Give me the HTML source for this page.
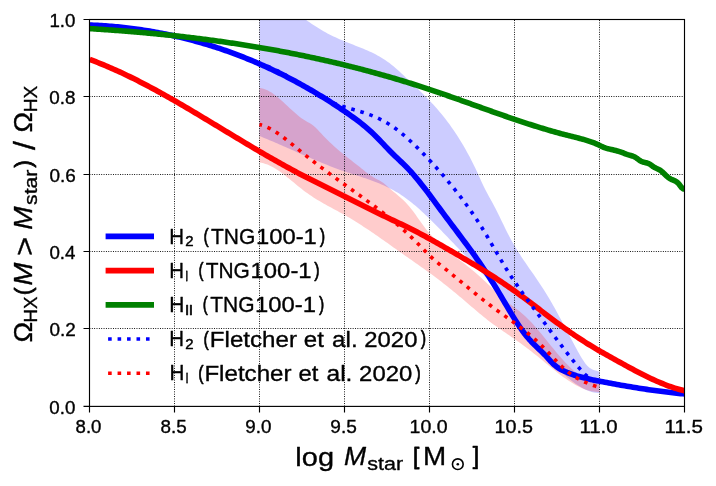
<!DOCTYPE html>
<html><head><meta charset="utf-8"><title>chart</title>
<style>html,body{margin:0;padding:0;background:#fff;}svg{display:block;}text{font-family:"Liberation Sans",sans-serif;fill:#000;}</style></head>
<body>
<svg width="716" height="486" viewBox="0 0 716 486">
<rect x="0" y="0" width="716" height="486" fill="#fff"/>
<defs><clipPath id="ax"><rect x="89.50" y="19.50" width="595.00" height="386.90"/></clipPath></defs>
<g clip-path="url(#ax)">
<path d="M259.50,-6.00 L261.50,-5.46 L263.50,-4.83 L265.50,-4.14 L267.50,-3.37 L269.50,-2.53 L271.50,-1.63 L273.50,-0.67 L275.50,0.34 L277.50,1.41 L279.50,2.52 L281.50,3.68 L283.50,4.88 L285.50,6.12 L287.50,7.38 L289.50,8.68 L291.50,10.00 L293.50,11.33 L295.50,12.69 L297.50,14.06 L299.50,15.43 L301.50,16.81 L303.50,18.20 L305.50,19.57 L307.50,20.95 L309.50,22.31 L311.50,23.65 L313.50,24.98 L315.50,26.28 L317.50,27.55 L319.50,28.80 L321.50,30.01 L323.50,31.18 L325.50,32.31 L327.50,33.40 L329.50,34.44 L331.50,35.44 L333.50,36.41 L335.50,37.35 L337.50,38.26 L339.50,39.14 L341.50,40.00 L343.50,40.84 L345.50,41.66 L347.50,42.47 L349.50,43.27 L351.50,44.06 L353.50,44.85 L355.50,45.64 L357.50,46.43 L359.50,47.23 L361.50,48.03 L363.50,48.85 L365.50,49.69 L367.50,50.55 L369.50,51.45 L371.50,52.37 L373.50,53.34 L375.50,54.35 L377.50,55.41 L379.50,56.53 L381.50,57.70 L383.50,58.94 L385.50,60.25 L387.50,61.63 L389.50,63.09 L391.50,64.64 L393.50,66.27 L395.50,67.98 L397.50,69.76 L399.50,71.59 L401.50,73.45 L403.50,75.33 L405.50,77.22 L407.50,79.11 L409.50,80.99 L411.50,82.87 L413.50,84.76 L415.50,86.66 L417.50,88.57 L419.50,90.50 L421.50,92.45 L423.50,94.42 L425.50,96.43 L427.50,98.47 L429.50,100.55 L431.50,102.67 L433.50,104.84 L435.50,107.06 L437.50,109.33 L439.50,111.66 L441.50,114.06 L443.50,116.52 L445.50,119.06 L447.50,121.67 L449.50,124.36 L451.50,127.14 L453.50,130.00 L455.50,132.96 L457.50,136.02 L459.50,139.17 L461.50,142.43 L463.50,145.80 L465.50,149.29 L467.50,152.89 L469.50,156.61 L471.50,160.46 L473.50,164.44 L475.50,168.55 L477.50,172.80 L479.50,177.20 L481.50,181.64 L483.50,185.92 L485.50,189.93 L487.50,193.74 L489.50,197.42 L491.50,201.06 L493.50,204.73 L495.50,208.52 L497.50,212.46 L499.50,216.53 L501.50,220.67 L503.50,224.82 L505.50,228.93 L507.50,232.93 L509.50,236.77 L511.50,240.45 L513.50,243.97 L515.50,247.37 L517.50,250.64 L519.50,253.81 L521.50,256.89 L523.50,259.90 L525.50,262.85 L527.50,265.75 L529.50,268.63 L531.50,271.50 L533.50,274.36 L535.50,277.25 L537.50,280.17 L539.50,283.13 L541.50,286.16 L543.50,289.27 L545.50,292.46 L547.50,295.75 L549.50,299.12 L551.50,302.55 L553.50,306.06 L555.50,309.62 L557.50,313.24 L559.50,316.90 L561.50,320.60 L563.50,324.33 L565.50,328.08 L567.50,331.85 L569.50,335.63 L571.50,339.40 L573.50,343.18 L575.50,346.94 L577.50,350.67 L579.50,354.29 L581.50,357.71 L583.50,360.87 L585.50,363.66 L587.50,366.02 L589.50,367.86 L591.50,369.11 L593.50,369.88 L595.50,370.43 L597.50,371.05 L599.50,372.02 L599.50,392.95 L597.50,392.92 L595.50,392.73 L593.50,392.39 L591.50,391.90 L589.50,391.27 L587.50,390.51 L585.50,389.63 L583.50,388.63 L581.50,387.53 L579.50,386.33 L577.50,385.03 L575.50,383.65 L573.50,382.19 L571.50,380.67 L569.50,379.08 L567.50,377.44 L565.50,375.75 L563.50,374.03 L561.50,372.27 L559.50,370.48 L557.50,368.65 L555.50,366.79 L553.50,364.90 L551.50,362.98 L549.50,361.02 L547.50,359.02 L545.50,356.96 L543.50,354.84 L541.50,352.66 L539.50,350.39 L537.50,348.04 L535.50,345.60 L533.50,343.07 L531.50,340.45 L529.50,337.76 L527.50,335.01 L525.50,332.19 L523.50,329.33 L521.50,326.43 L519.50,323.50 L517.50,320.55 L515.50,317.59 L513.50,314.63 L511.50,311.67 L509.50,308.72 L507.50,305.80 L505.50,302.92 L503.50,300.07 L501.50,297.27 L499.50,294.54 L497.50,291.87 L495.50,289.28 L493.50,286.75 L491.50,284.29 L489.50,281.89 L487.50,279.54 L485.50,277.24 L483.50,274.99 L481.50,272.77 L479.50,270.59 L477.50,268.43 L475.50,266.30 L473.50,264.19 L471.50,262.09 L469.50,260.00 L467.50,257.91 L465.50,255.83 L463.50,253.74 L461.50,251.66 L459.50,249.58 L457.50,247.50 L455.50,245.41 L453.50,243.33 L451.50,241.24 L449.50,239.15 L447.50,237.06 L445.50,234.97 L443.50,232.89 L441.50,230.82 L439.50,228.76 L437.50,226.72 L435.50,224.69 L433.50,222.68 L431.50,220.70 L429.50,218.73 L427.50,216.80 L425.50,214.89 L423.50,213.01 L421.50,211.17 L419.50,209.36 L417.50,207.59 L415.50,205.87 L413.50,204.19 L411.50,202.55 L409.50,200.96 L407.50,199.43 L405.50,197.95 L403.50,196.52 L401.50,195.15 L399.50,193.85 L397.50,192.60 L395.50,191.41 L393.50,190.27 L391.50,189.18 L389.50,188.13 L387.50,187.13 L385.50,186.18 L383.50,185.26 L381.50,184.38 L379.50,183.53 L377.50,182.72 L375.50,181.93 L373.50,181.17 L371.50,180.44 L369.50,179.72 L367.50,179.02 L365.50,178.34 L363.50,177.67 L361.50,177.01 L359.50,176.36 L357.50,175.71 L355.50,175.06 L353.50,174.42 L351.50,173.77 L349.50,173.11 L347.50,172.45 L345.50,171.77 L343.50,171.09 L341.50,170.38 L339.50,169.67 L337.50,168.94 L335.50,168.19 L333.50,167.44 L331.50,166.67 L329.50,165.89 L327.50,165.10 L325.50,164.30 L323.50,163.50 L321.50,162.68 L319.50,161.85 L317.50,161.02 L315.50,160.18 L313.50,159.33 L311.50,158.48 L309.50,157.62 L307.50,156.75 L305.50,155.89 L303.50,155.01 L301.50,154.14 L299.50,153.26 L297.50,152.38 L295.50,151.50 L293.50,150.62 L291.50,149.73 L289.50,148.85 L287.50,147.97 L285.50,147.09 L283.50,146.21 L281.50,145.33 L279.50,144.46 L277.50,143.59 L275.50,142.72 L273.50,141.86 L271.50,141.00 L269.50,140.15 L267.50,139.31 L265.50,138.47 L263.50,137.64 L261.50,136.82 L259.50,136.00 Z" fill="#0000ff" fill-opacity="0.2" stroke="none"/>
<path d="M259.50,87.90 L261.50,88.18 L263.50,88.69 L265.50,89.40 L267.50,90.31 L269.50,91.39 L271.50,92.62 L273.50,94.00 L275.50,95.49 L277.50,97.09 L279.50,98.78 L281.50,100.53 L283.50,102.34 L285.50,104.19 L287.50,106.05 L289.50,107.91 L291.50,109.76 L293.50,111.58 L295.50,113.34 L297.50,115.03 L299.50,116.64 L301.50,118.15 L303.50,119.54 L305.50,120.79 L307.50,121.93 L309.50,123.07 L311.50,124.33 L313.50,125.81 L315.50,127.58 L317.50,129.55 L319.50,131.66 L321.50,133.82 L323.50,135.96 L325.50,138.04 L327.50,140.04 L329.50,141.98 L331.50,143.87 L333.50,145.70 L335.50,147.48 L337.50,149.22 L339.50,150.91 L341.50,152.58 L343.50,154.21 L345.50,155.83 L347.50,157.42 L349.50,159.00 L351.50,160.57 L353.50,162.13 L355.50,163.70 L357.50,165.27 L359.50,166.85 L361.50,168.45 L363.50,170.05 L365.50,171.63 L367.50,173.17 L369.50,174.65 L371.50,176.03 L373.50,177.29 L375.50,178.41 L377.50,179.40 L379.50,180.41 L381.50,181.64 L383.50,183.11 L385.50,184.75 L387.50,186.49 L389.50,188.26 L391.50,189.99 L393.50,191.68 L395.50,193.35 L397.50,195.03 L399.50,196.74 L401.50,198.51 L403.50,200.37 L405.50,202.34 L407.50,204.45 L409.50,206.73 L411.50,209.20 L413.50,211.83 L415.50,214.58 L417.50,217.40 L419.50,220.24 L421.50,223.07 L423.50,225.82 L425.50,228.45 L427.50,230.93 L429.50,233.28 L431.50,235.49 L433.50,237.59 L435.50,239.59 L437.50,241.51 L439.50,243.37 L441.50,245.17 L443.50,246.92 L445.50,248.63 L447.50,250.31 L449.50,251.96 L451.50,253.58 L453.50,255.18 L455.50,256.77 L457.50,258.34 L459.50,259.90 L461.50,261.47 L463.50,263.03 L465.50,264.61 L467.50,266.20 L469.50,267.80 L471.50,269.42 L473.50,271.08 L475.50,272.76 L477.50,274.48 L479.50,276.25 L481.50,278.05 L483.50,279.90 L485.50,281.79 L487.50,283.70 L489.50,285.62 L491.50,287.55 L493.50,289.48 L495.50,291.40 L497.50,293.30 L499.50,295.17 L501.50,297.00 L503.50,298.79 L505.50,300.52 L507.50,302.19 L509.50,303.78 L511.50,305.32 L513.50,306.81 L515.50,308.30 L517.50,309.81 L519.50,311.36 L521.50,312.97 L523.50,314.67 L525.50,316.49 L527.50,318.41 L529.50,320.43 L531.50,322.53 L533.50,324.72 L535.50,326.98 L537.50,329.29 L539.50,331.66 L541.50,334.07 L543.50,336.51 L545.50,338.97 L547.50,341.45 L549.50,343.93 L551.50,346.40 L553.50,348.86 L555.50,351.29 L557.50,353.70 L559.50,356.05 L561.50,358.36 L563.50,360.60 L565.50,362.77 L567.50,364.87 L569.50,366.87 L571.50,368.78 L573.50,370.59 L575.50,372.28 L577.50,373.86 L579.50,375.30 L581.50,376.61 L583.50,377.78 L585.50,378.79 L587.50,379.65 L589.50,380.33 L591.50,380.84 L593.50,381.16 L595.50,381.29 L597.50,381.22 L599.50,380.94 L599.50,391.94 L597.50,391.94 L595.50,391.82 L593.50,391.59 L591.50,391.24 L589.50,390.79 L587.50,390.23 L585.50,389.57 L583.50,388.82 L581.50,387.98 L579.50,387.05 L577.50,386.05 L575.50,384.97 L573.50,383.82 L571.50,382.60 L569.50,381.32 L567.50,379.99 L565.50,378.60 L563.50,377.17 L561.50,375.69 L559.50,374.17 L557.50,372.63 L555.50,371.05 L553.50,369.45 L551.50,367.83 L549.50,366.20 L547.50,364.55 L545.50,362.90 L543.50,361.25 L541.50,359.61 L539.50,357.97 L537.50,356.34 L535.50,354.74 L533.50,353.15 L531.50,351.59 L529.50,350.04 L527.50,348.51 L525.50,347.00 L523.50,345.51 L521.50,344.04 L519.50,342.58 L517.50,341.15 L515.50,339.73 L513.50,338.33 L511.50,336.94 L509.50,335.57 L507.50,334.20 L505.50,332.83 L503.50,331.46 L501.50,330.09 L499.50,328.70 L497.50,327.30 L495.50,325.87 L493.50,324.43 L491.50,322.95 L489.50,321.44 L487.50,319.89 L485.50,318.31 L483.50,316.70 L481.50,315.07 L479.50,313.41 L477.50,311.74 L475.50,310.05 L473.50,308.35 L471.50,306.64 L469.50,304.93 L467.50,303.22 L465.50,301.50 L463.50,299.80 L461.50,298.09 L459.50,296.40 L457.50,294.72 L455.50,293.05 L453.50,291.39 L451.50,289.75 L449.50,288.13 L447.50,286.53 L445.50,284.96 L443.50,283.40 L441.50,281.85 L439.50,280.33 L437.50,278.82 L435.50,277.32 L433.50,275.84 L431.50,274.37 L429.50,272.91 L427.50,271.46 L425.50,270.02 L423.50,268.59 L421.50,267.17 L419.50,265.75 L417.50,264.33 L415.50,262.92 L413.50,261.52 L411.50,260.11 L409.50,258.70 L407.50,257.30 L405.50,255.89 L403.50,254.48 L401.50,253.06 L399.50,251.64 L397.50,250.22 L395.50,248.80 L393.50,247.38 L391.50,245.96 L389.50,244.54 L387.50,243.12 L385.50,241.71 L383.50,240.30 L381.50,238.89 L379.50,237.49 L377.50,236.10 L375.50,234.72 L373.50,233.34 L371.50,231.98 L369.50,230.62 L367.50,229.28 L365.50,227.94 L363.50,226.63 L361.50,225.32 L359.50,224.03 L357.50,222.76 L355.50,221.50 L353.50,220.26 L351.50,219.04 L349.50,217.84 L347.50,216.66 L345.50,215.50 L343.50,214.36 L341.50,213.24 L339.50,212.14 L337.50,211.05 L335.50,209.97 L333.50,208.89 L331.50,207.81 L329.50,206.73 L327.50,205.64 L325.50,204.54 L323.50,203.42 L321.50,202.27 L319.50,201.11 L317.50,199.91 L315.50,198.69 L313.50,197.42 L311.50,196.12 L309.50,194.77 L307.50,193.37 L305.50,191.92 L303.50,190.41 L301.50,188.85 L299.50,187.26 L297.50,185.63 L295.50,183.99 L293.50,182.34 L291.50,180.69 L289.50,179.05 L287.50,177.43 L285.50,175.84 L283.50,174.29 L281.50,172.80 L279.50,171.37 L277.50,170.00 L275.50,168.72 L273.50,167.53 L271.50,166.44 L269.50,165.47 L267.50,164.61 L265.50,163.88 L263.50,163.30 L261.50,162.86 L259.50,162.59 Z" fill="#ff0000" fill-opacity="0.2" stroke="none"/>
</g>
<path d="M174.50,406.40 V19.50 M259.50,406.40 V19.50 M344.50,406.40 V19.50 M429.50,406.40 V19.50 M514.50,406.40 V19.50 M599.50,406.40 V19.50 M89.50,328.50 H684.50 M89.50,251.50 H684.50 M89.50,174.50 H684.50 M89.50,96.50 H684.50" fill="none" stroke="#000" stroke-width="1" stroke-dasharray="0.9 1.45"/>
<g clip-path="url(#ax)" fill="none" stroke-linejoin="round">
<path d="M89.70,25.02 L91.70,25.10 L93.69,25.19 L95.69,25.29 L97.69,25.39 L99.68,25.51 L101.68,25.63 L103.68,25.76 L105.67,25.90 L107.67,26.05 L109.67,26.20 L111.66,26.37 L113.66,26.54 L115.66,26.72 L117.65,26.91 L119.65,27.11 L121.65,27.31 L123.64,27.53 L125.64,27.75 L127.64,27.98 L129.63,28.22 L131.63,28.47 L133.63,28.73 L135.62,28.99 L137.62,29.27 L139.62,29.55 L141.61,29.84 L143.61,30.15 L145.61,30.46 L147.60,30.78 L149.60,31.10 L151.60,31.44 L153.59,31.79 L155.59,32.14 L157.59,32.51 L159.58,32.88 L161.58,33.26 L163.58,33.65 L165.57,34.05 L167.57,34.46 L169.57,34.88 L171.56,35.31 L173.56,35.75 L175.56,36.20 L177.55,36.65 L179.55,37.12 L181.55,37.59 L183.54,38.08 L185.54,38.57 L187.54,39.08 L189.53,39.59 L191.53,40.11 L193.53,40.65 L195.52,41.19 L197.52,41.74 L199.52,42.30 L201.51,42.87 L203.51,43.45 L205.51,44.05 L207.50,44.65 L209.50,45.26 L211.50,45.88 L213.49,46.51 L215.49,47.15 L217.49,47.80 L219.48,48.46 L221.48,49.13 L223.48,49.81 L225.47,50.51 L227.47,51.21 L229.47,51.92 L231.46,52.64 L233.46,53.37 L235.46,54.12 L237.45,54.87 L239.45,55.63 L241.44,56.40 L243.44,57.19 L245.44,57.98 L247.43,58.79 L249.43,59.60 L251.43,60.43 L253.42,61.27 L255.42,62.11 L257.42,62.97 L259.41,63.84 L261.41,64.72 L263.41,65.61 L265.40,66.51 L267.40,67.42 L269.40,68.35 L271.39,69.28 L273.39,70.22 L275.39,71.18 L277.38,72.14 L279.38,73.12 L281.38,74.11 L283.37,75.11 L285.37,76.12 L287.37,77.14 L289.36,78.18 L291.36,79.22 L293.36,80.27 L295.35,81.34 L297.35,82.42 L299.35,83.51 L301.34,84.61 L303.34,85.72 L305.34,86.84 L307.33,87.98 L309.33,89.13 L311.33,90.28 L313.32,91.45 L315.32,92.63 L317.32,93.83 L319.31,95.03 L321.31,96.25 L323.31,97.48 L325.30,98.71 L327.30,99.97 L329.30,101.23 L331.29,102.50 L333.29,103.79 L335.29,105.09 L337.28,106.40 L339.28,107.72 L341.28,109.06 L343.27,110.40 L345.27,111.76 L347.27,113.14 L349.26,114.53 L351.26,115.94 L353.26,117.37 L355.25,118.83 L357.25,120.33 L359.25,121.85 L361.24,123.42 L363.24,125.03 L365.24,126.68 L367.23,128.38 L369.23,130.13 L371.23,131.94 L373.22,133.80 L375.22,135.73 L377.22,137.72 L379.21,139.76 L381.21,141.84 L383.21,143.94 L385.20,146.05 L387.20,148.15 L389.20,150.22 L391.19,152.26 L393.19,154.25 L395.19,156.18 L397.18,158.09 L399.18,159.98 L401.18,161.88 L403.17,163.79 L405.17,165.75 L407.17,167.76 L409.16,169.84 L411.16,172.00 L413.16,174.25 L415.15,176.56 L417.15,178.95 L419.15,181.39 L421.14,183.89 L423.14,186.44 L425.14,189.02 L427.13,191.65 L429.13,194.30 L431.13,196.98 L433.12,199.67 L435.12,202.37 L437.12,205.08 L439.11,207.78 L441.11,210.48 L443.11,213.16 L445.10,215.84 L447.10,218.51 L449.10,221.17 L451.09,223.82 L453.09,226.48 L455.09,229.13 L457.08,231.79 L459.08,234.45 L461.08,237.12 L463.07,239.80 L465.07,242.49 L467.07,245.20 L469.06,247.92 L471.06,250.67 L473.06,253.44 L475.05,256.23 L477.05,259.06 L479.05,261.91 L481.04,264.81 L483.04,267.74 L485.04,270.70 L487.03,273.72 L489.03,276.77 L491.03,279.88 L493.02,283.04 L495.02,286.25 L497.02,289.51 L499.01,292.84 L501.01,296.20 L503.01,299.59 L505.00,303.00 L507.00,306.40 L509.00,309.78 L510.99,313.12 L512.99,316.42 L514.99,319.64 L516.98,322.78 L518.98,325.82 L520.98,328.75 L522.97,331.54 L524.97,334.19 L526.97,336.68 L528.96,339.01 L530.96,341.21 L532.96,343.30 L534.95,345.30 L536.95,347.22 L538.94,349.10 L540.94,350.99 L542.94,352.92 L544.93,354.94 L546.93,357.09 L548.93,359.32 L550.92,361.52 L552.92,363.58 L554.92,365.40 L556.91,366.96 L558.91,368.31 L560.91,369.47 L562.90,370.50 L564.90,371.42 L566.90,372.29 L568.89,373.10 L570.89,373.86 L572.89,374.57 L574.88,375.24 L576.88,375.88 L578.88,376.47 L580.87,377.04 L582.87,377.57 L584.87,378.07 L586.86,378.55 L588.86,379.01 L590.86,379.44 L592.85,379.87 L594.85,380.27 L596.85,380.67 L598.84,381.06 L600.84,381.45 L602.84,381.84 L604.83,382.22 L606.83,382.60 L608.83,382.97 L610.82,383.34 L612.82,383.71 L614.82,384.08 L616.81,384.44 L618.81,384.80 L620.81,385.15 L622.80,385.50 L624.80,385.84 L626.80,386.19 L628.79,386.52 L630.79,386.86 L632.79,387.19 L634.78,387.51 L636.78,387.83 L638.78,388.15 L640.77,388.46 L642.77,388.77 L644.77,389.07 L646.76,389.37 L648.76,389.66 L650.76,389.95 L652.75,390.23 L654.75,390.51 L656.75,390.78 L658.74,391.05 L660.74,391.31 L662.74,391.57 L664.73,391.82 L666.73,392.07 L668.73,392.31 L670.72,392.54 L672.72,392.77 L674.72,392.99 L676.71,393.21 L678.71,393.42 L680.71,393.62 L682.70,393.82 L684.70,394.01" stroke="#0000ff" stroke-width="5.6"/>
<path d="M89.70,59.48 L91.70,60.22 L93.69,60.97 L95.69,61.73 L97.69,62.51 L99.68,63.30 L101.68,64.10 L103.68,64.92 L105.67,65.75 L107.67,66.59 L109.67,67.45 L111.66,68.31 L113.66,69.19 L115.66,70.09 L117.65,70.99 L119.65,71.90 L121.65,72.83 L123.64,73.77 L125.64,74.72 L127.64,75.67 L129.63,76.64 L131.63,77.62 L133.63,78.61 L135.62,79.61 L137.62,80.62 L139.62,81.64 L141.61,82.66 L143.61,83.70 L145.61,84.74 L147.60,85.80 L149.60,86.86 L151.60,87.92 L153.59,89.00 L155.59,90.08 L157.59,91.18 L159.58,92.27 L161.58,93.38 L163.58,94.49 L165.57,95.61 L167.57,96.73 L169.57,97.86 L171.56,99.00 L173.56,100.14 L175.56,101.29 L177.55,102.44 L179.55,103.60 L181.55,104.76 L183.54,105.92 L185.54,107.09 L187.54,108.27 L189.53,109.44 L191.53,110.63 L193.53,111.81 L195.52,113.00 L197.52,114.19 L199.52,115.38 L201.51,116.58 L203.51,117.78 L205.51,118.98 L207.50,120.18 L209.50,121.38 L211.50,122.59 L213.49,123.79 L215.49,125.00 L217.49,126.20 L219.48,127.41 L221.48,128.62 L223.48,129.83 L225.47,131.04 L227.47,132.24 L229.47,133.45 L231.46,134.66 L233.46,135.86 L235.46,137.07 L237.45,138.27 L239.45,139.47 L241.44,140.67 L243.44,141.86 L245.44,143.06 L247.43,144.25 L249.43,145.44 L251.43,146.62 L253.42,147.81 L255.42,148.98 L257.42,150.16 L259.41,151.33 L261.41,152.50 L263.41,153.66 L265.40,154.82 L267.40,155.97 L269.40,157.12 L271.39,158.26 L273.39,159.40 L275.39,160.54 L277.38,161.66 L279.38,162.79 L281.38,163.90 L283.37,165.01 L285.37,166.12 L287.37,167.22 L289.36,168.31 L291.36,169.39 L293.36,170.47 L295.35,171.54 L297.35,172.61 L299.35,173.66 L301.34,174.71 L303.34,175.76 L305.34,176.79 L307.33,177.82 L309.33,178.84 L311.33,179.85 L313.32,180.86 L315.32,181.86 L317.32,182.85 L319.31,183.85 L321.31,184.84 L323.31,185.82 L325.30,186.81 L327.30,187.79 L329.30,188.77 L331.29,189.75 L333.29,190.73 L335.29,191.71 L337.28,192.70 L339.28,193.68 L341.28,194.67 L343.27,195.66 L345.27,196.66 L347.27,197.66 L349.26,198.66 L351.26,199.67 L353.26,200.67 L355.25,201.68 L357.25,202.70 L359.25,203.71 L361.24,204.72 L363.24,205.73 L365.24,206.73 L367.23,207.74 L369.23,208.74 L371.23,209.74 L373.22,210.74 L375.22,211.73 L377.22,212.71 L379.21,213.69 L381.21,214.66 L383.21,215.63 L385.20,216.59 L387.20,217.54 L389.20,218.48 L391.19,219.43 L393.19,220.37 L395.19,221.31 L397.18,222.25 L399.18,223.19 L401.18,224.14 L403.17,225.10 L405.17,226.06 L407.17,227.03 L409.16,228.02 L411.16,229.02 L413.16,230.03 L415.15,231.05 L417.15,232.08 L419.15,233.13 L421.14,234.19 L423.14,235.26 L425.14,236.33 L427.13,237.42 L429.13,238.52 L431.13,239.62 L433.12,240.74 L435.12,241.86 L437.12,242.98 L439.11,244.12 L441.11,245.26 L443.11,246.40 L445.10,247.55 L447.10,248.70 L449.10,249.86 L451.09,251.02 L453.09,252.18 L455.09,253.35 L457.08,254.52 L459.08,255.69 L461.08,256.86 L463.07,258.04 L465.07,259.22 L467.07,260.41 L469.06,261.60 L471.06,262.80 L473.06,264.00 L475.05,265.21 L477.05,266.42 L479.05,267.64 L481.04,268.87 L483.04,270.11 L485.04,271.35 L487.03,272.61 L489.03,273.87 L491.03,275.14 L493.02,276.42 L495.02,277.72 L497.02,279.02 L499.01,280.33 L501.01,281.66 L503.01,282.99 L505.00,284.34 L507.00,285.70 L509.00,287.08 L510.99,288.47 L512.99,289.87 L514.99,291.29 L516.98,292.72 L518.98,294.16 L520.98,295.62 L522.97,297.09 L524.97,298.57 L526.97,300.05 L528.96,301.55 L530.96,303.05 L532.96,304.56 L534.95,306.07 L536.95,307.58 L538.94,309.10 L540.94,310.61 L542.94,312.13 L544.93,313.65 L546.93,315.16 L548.93,316.67 L550.92,318.17 L552.92,319.67 L554.92,321.16 L556.91,322.64 L558.91,324.11 L560.91,325.58 L562.90,327.03 L564.90,328.46 L566.90,329.89 L568.89,331.30 L570.89,332.69 L572.89,334.07 L574.88,335.44 L576.88,336.79 L578.88,338.12 L580.87,339.43 L582.87,340.72 L584.87,342.00 L586.86,343.26 L588.86,344.50 L590.86,345.72 L592.85,346.93 L594.85,348.13 L596.85,349.31 L598.84,350.48 L600.84,351.63 L602.84,352.78 L604.83,353.92 L606.83,355.05 L608.83,356.17 L610.82,357.29 L612.82,358.40 L614.82,359.51 L616.81,360.61 L618.81,361.72 L620.81,362.82 L622.80,363.92 L624.80,365.01 L626.80,366.11 L628.79,367.19 L630.79,368.27 L632.79,369.34 L634.78,370.41 L636.78,371.46 L638.78,372.50 L640.77,373.53 L642.77,374.55 L644.77,375.55 L646.76,376.53 L648.76,377.50 L650.76,378.45 L652.75,379.38 L654.75,380.30 L656.75,381.19 L658.74,382.05 L660.74,382.90 L662.74,383.71 L664.73,384.51 L666.73,385.27 L668.73,386.01 L670.72,386.71 L672.72,387.39 L674.72,388.04 L676.71,388.65 L678.71,389.23 L680.71,389.77 L682.70,390.28 L684.70,390.75" stroke="#ff0000" stroke-width="5.6"/>
<path d="M89.70,28.63 L91.20,28.72 L92.70,28.82 L94.20,28.91 L95.69,29.01 L97.19,29.10 L98.69,29.20 L100.19,29.30 L101.69,29.40 L103.19,29.50 L104.69,29.61 L106.19,29.71 L107.68,29.81 L109.18,29.92 L110.68,30.03 L112.18,30.14 L113.68,30.24 L115.18,30.36 L116.68,30.47 L118.18,30.58 L119.67,30.69 L121.17,30.81 L122.67,30.93 L124.17,31.04 L125.67,31.16 L127.17,31.28 L128.67,31.40 L130.17,31.53 L131.66,31.65 L133.16,31.78 L134.66,31.90 L136.16,32.03 L137.66,32.16 L139.16,32.29 L140.66,32.42 L142.16,32.55 L143.65,32.69 L145.15,32.82 L146.65,32.96 L148.15,33.10 L149.65,33.24 L151.15,33.38 L152.65,33.52 L154.15,33.66 L155.64,33.81 L157.14,33.95 L158.64,34.10 L160.14,34.25 L161.64,34.40 L163.14,34.55 L164.64,34.70 L166.14,34.86 L167.63,35.01 L169.13,35.17 L170.63,35.33 L172.13,35.49 L173.63,35.65 L175.13,35.81 L176.63,35.98 L178.13,36.14 L179.62,36.31 L181.12,36.48 L182.62,36.65 L184.12,36.82 L185.62,36.99 L187.12,37.17 L188.62,37.34 L190.12,37.52 L191.61,37.70 L193.11,37.88 L194.61,38.06 L196.11,38.25 L197.61,38.43 L199.11,38.62 L200.61,38.80 L202.11,38.99 L203.60,39.19 L205.10,39.38 L206.60,39.57 L208.10,39.77 L209.60,39.97 L211.10,40.16 L212.60,40.36 L214.10,40.57 L215.59,40.77 L217.09,40.98 L218.59,41.18 L220.09,41.39 L221.59,41.60 L223.09,41.81 L224.59,42.03 L226.09,42.24 L227.58,42.46 L229.08,42.68 L230.58,42.90 L232.08,43.12 L233.58,43.34 L235.08,43.57 L236.58,43.80 L238.08,44.02 L239.57,44.25 L241.07,44.49 L242.57,44.72 L244.07,44.96 L245.57,45.19 L247.07,45.43 L248.57,45.67 L250.07,45.91 L251.56,46.16 L253.06,46.40 L254.56,46.65 L256.06,46.90 L257.56,47.15 L259.06,47.41 L260.56,47.66 L262.06,47.92 L263.55,48.18 L265.05,48.44 L266.55,48.70 L268.05,48.96 L269.55,49.23 L271.05,49.49 L272.55,49.76 L274.05,50.04 L275.54,50.31 L277.04,50.58 L278.54,50.86 L280.04,51.14 L281.54,51.42 L283.04,51.70 L284.54,51.99 L286.04,52.27 L287.53,52.56 L289.03,52.85 L290.53,53.14 L292.03,53.44 L293.53,53.73 L295.03,54.03 L296.53,54.33 L298.02,54.63 L299.52,54.94 L301.02,55.24 L302.52,55.55 L304.02,55.86 L305.52,56.17 L307.02,56.48 L308.52,56.80 L310.01,57.12 L311.51,57.44 L313.01,57.76 L314.51,58.08 L316.01,58.41 L317.51,58.74 L319.01,59.07 L320.51,59.40 L322.00,59.73 L323.50,60.07 L325.00,60.41 L326.50,60.75 L328.00,61.09 L329.50,61.43 L331.00,61.78 L332.50,62.13 L333.99,62.48 L335.49,62.83 L336.99,63.18 L338.49,63.54 L339.99,63.90 L341.49,64.26 L342.99,64.63 L344.49,64.99 L345.98,65.36 L347.48,65.73 L348.98,66.10 L350.48,66.47 L351.98,66.85 L353.48,67.23 L354.98,67.61 L356.48,67.99 L357.97,68.38 L359.47,68.77 L360.97,69.16 L362.47,69.55 L363.97,69.94 L365.47,70.34 L366.97,70.74 L368.47,71.14 L369.96,71.54 L371.46,71.95 L372.96,72.35 L374.46,72.76 L375.96,73.18 L377.46,73.59 L378.96,74.01 L380.46,74.43 L381.95,74.85 L383.45,75.27 L384.95,75.70 L386.45,76.13 L387.95,76.56 L389.45,76.99 L390.95,77.42 L392.45,77.86 L393.94,78.30 L395.44,78.75 L396.94,79.19 L398.44,79.64 L399.94,80.09 L401.44,80.54 L402.94,80.99 L404.44,81.45 L405.93,81.91 L407.43,82.37 L408.93,82.84 L410.43,83.30 L411.93,83.77 L413.43,84.24 L414.93,84.72 L416.43,85.19 L417.92,85.67 L419.42,86.15 L420.92,86.64 L422.42,87.12 L423.92,87.61 L425.42,88.10 L426.92,88.60 L428.42,89.09 L429.91,89.59 L431.41,90.09 L432.91,90.60 L434.41,91.10 L435.91,91.61 L437.41,92.12 L438.91,92.64 L440.41,93.15 L441.90,93.67 L443.40,94.18 L444.90,94.70 L446.40,95.23 L447.90,95.75 L449.40,96.27 L450.90,96.80 L452.40,97.33 L453.89,97.86 L455.39,98.39 L456.89,98.92 L458.39,99.45 L459.89,99.98 L461.39,100.52 L462.89,101.05 L464.39,101.59 L465.88,102.12 L467.38,102.66 L468.88,103.20 L470.38,103.73 L471.88,104.27 L473.38,104.81 L474.88,105.35 L476.38,105.88 L477.87,106.42 L479.37,106.96 L480.87,107.50 L482.37,108.03 L483.87,108.57 L485.37,109.10 L486.87,109.64 L488.36,110.17 L489.86,110.71 L491.36,111.24 L492.86,111.77 L494.36,112.31 L495.86,112.84 L497.36,113.36 L498.86,113.89 L500.35,114.42 L501.85,114.94 L503.35,115.47 L504.85,115.99 L506.35,116.51 L507.85,117.03 L509.35,117.55 L510.85,118.06 L512.34,118.57 L513.84,119.08 L515.34,119.59 L516.84,120.10 L518.34,120.60 L519.84,121.10 L521.34,121.60 L522.84,122.10 L524.33,122.59 L525.83,123.09 L527.33,123.57 L528.83,124.06 L530.33,124.54 L531.83,125.02 L533.33,125.50 L534.83,125.97 L536.32,126.44 L537.82,126.91 L539.32,127.37 L540.82,127.83 L542.32,128.28 L543.82,128.74 L545.32,129.18 L546.82,129.63 L548.31,130.07 L549.81,130.50 L551.31,130.94 L552.81,131.36 L554.31,131.79 L555.81,132.21 L557.31,132.62 L558.81,133.03 L560.30,133.44 L561.80,133.84 L563.30,134.23 L564.80,134.62 L566.30,135.01 L567.80,135.39 L569.30,135.77 L570.80,136.14 L572.29,136.52 L573.79,136.90 L575.29,137.27 L576.79,137.66 L578.29,138.05 L579.79,138.44 L581.29,138.84 L582.79,139.26 L584.28,139.68 L585.78,140.12 L587.28,140.58 L588.78,141.05 L590.28,141.54 L591.78,142.05 L593.28,142.61 L594.78,143.20 L596.27,143.85 L597.77,144.54 L599.27,145.26 L600.77,145.98 L602.27,146.67 L603.77,147.30 L605.27,147.86 L606.77,148.34 L608.26,148.77 L609.76,149.15 L611.26,149.51 L612.76,149.85 L614.26,150.20 L615.76,150.56 L617.26,150.94 L618.76,151.37 L620.25,151.86 L621.75,152.40 L623.25,152.98 L624.75,153.57 L626.25,154.13 L627.75,154.65 L629.25,155.09 L630.75,155.50 L632.24,155.94 L633.74,156.50 L635.24,157.23 L636.74,158.23 L638.24,159.42 L639.74,160.56 L641.24,161.41 L642.74,161.97 L644.23,162.34 L645.73,162.66 L647.23,163.03 L648.73,163.58 L650.23,164.43 L651.73,165.54 L653.23,166.67 L654.73,167.59 L656.22,168.31 L657.72,168.97 L659.22,169.70 L660.72,170.64 L662.22,171.87 L663.72,173.28 L665.22,174.77 L666.72,176.21 L668.21,177.51 L669.71,178.54 L671.21,179.30 L672.71,179.92 L674.21,180.55 L675.71,181.30 L677.21,182.34 L678.71,183.78 L680.20,185.72 L681.70,187.67 L683.20,188.89 L684.70,188.62" stroke="#008000" stroke-width="5.6"/>
<path d="M259.50,63.99 L261.50,64.50 L263.50,65.08 L265.50,65.72 L267.50,66.43 L269.50,67.20 L271.50,68.04 L273.50,68.92 L275.50,69.86 L277.50,70.84 L279.50,71.87 L281.50,72.94 L283.50,74.04 L285.50,75.18 L287.50,76.34 L289.50,77.54 L291.50,78.75 L293.50,79.99 L295.50,81.23 L297.50,82.49 L299.50,83.76 L301.50,85.03 L303.50,86.31 L305.50,87.58 L307.50,88.84 L309.50,90.10 L311.50,91.34 L313.50,92.56 L315.50,93.76 L317.50,94.94 L319.50,96.09 L321.50,97.21 L323.50,98.29 L325.50,99.34 L327.50,100.34 L329.50,101.29 L331.50,102.20 L333.50,103.05 L335.50,103.85 L337.50,104.61 L339.50,105.31 L341.50,105.99 L343.50,106.63 L345.50,107.24 L347.50,107.83 L349.50,108.41 L351.50,108.99 L353.50,109.55 L355.50,110.12 L357.50,110.70 L359.50,111.30 L361.50,111.91 L363.50,112.55 L365.50,113.22 L367.50,113.92 L369.50,114.65 L371.50,115.42 L373.50,116.23 L375.50,117.08 L377.50,117.98 L379.50,118.93 L381.50,119.92 L383.50,120.97 L385.50,122.08 L387.50,123.25 L389.50,124.47 L391.50,125.77 L393.50,127.13 L395.50,128.56 L397.50,130.06 L399.50,131.63 L401.50,133.26 L403.50,134.95 L405.50,136.68 L407.50,138.46 L409.50,140.28 L411.50,142.13 L413.50,144.01 L415.50,145.92 L417.50,147.87 L419.50,149.84 L421.50,151.84 L423.50,153.88 L425.50,155.94 L427.50,158.03 L429.50,160.16 L431.50,162.31 L433.50,164.50 L435.50,166.71 L437.50,168.95 L439.50,171.23 L441.50,173.53 L443.50,175.86 L445.50,178.22 L447.50,180.61 L449.50,183.03 L451.50,185.48 L453.50,187.96 L455.50,190.47 L457.50,193.00 L459.50,195.57 L461.50,198.18 L463.50,200.83 L465.50,203.52 L467.50,206.26 L469.50,209.05 L471.50,211.89 L473.50,214.80 L475.50,217.76 L477.50,220.79 L479.50,223.89 L481.50,227.05 L483.50,230.29 L485.50,233.60 L487.50,236.96 L489.50,240.37 L491.50,243.80 L493.50,247.25 L495.50,250.70 L497.50,254.14 L499.50,257.56 L501.50,260.94 L503.50,264.28 L505.50,267.56 L507.50,270.76 L509.50,273.91 L511.50,276.98 L513.50,280.01 L515.50,282.97 L517.50,285.89 L519.50,288.77 L521.50,291.61 L523.50,294.41 L525.50,297.18 L527.50,299.93 L529.50,302.65 L531.50,305.37 L533.50,308.07 L535.50,310.76 L537.50,313.45 L539.50,316.15 L541.50,318.85 L543.50,321.55 L545.50,324.25 L547.50,326.95 L549.50,329.65 L551.50,332.35 L553.50,335.04 L555.50,337.72 L557.50,340.39 L559.50,343.05 L561.50,345.70 L563.50,348.33 L565.50,350.94 L567.50,353.53 L569.50,356.10 L571.50,358.66 L573.50,361.18 L575.50,363.66 L577.50,366.09 L579.50,368.43 L581.50,370.68 L583.50,372.81 L585.50,374.79 L587.50,376.62 L589.50,378.27 L591.50,379.71 L593.50,380.94 L595.50,381.93 L597.50,382.67 L599.50,383.12" stroke="#0000ff" stroke-width="3.6" stroke-dasharray="3.6 5.87" stroke-dashoffset="1.5"/>
<path d="M259.50,124.58 L261.50,125.09 L263.50,125.74 L265.50,126.50 L267.50,127.37 L269.50,128.34 L271.50,129.41 L273.50,130.57 L275.50,131.82 L277.50,133.13 L279.50,134.51 L281.50,135.95 L283.50,137.45 L285.50,138.99 L287.50,140.56 L289.50,142.17 L291.50,143.80 L293.50,145.44 L295.50,147.10 L297.50,148.75 L299.50,150.40 L301.50,152.04 L303.50,153.66 L305.50,155.26 L307.50,156.85 L309.50,158.43 L311.50,159.99 L313.50,161.54 L315.50,163.08 L317.50,164.61 L319.50,166.13 L321.50,167.64 L323.50,169.13 L325.50,170.62 L327.50,172.11 L329.50,173.58 L331.50,175.05 L333.50,176.51 L335.50,177.97 L337.50,179.42 L339.50,180.87 L341.50,182.32 L343.50,183.76 L345.50,185.20 L347.50,186.64 L349.50,188.08 L351.50,189.52 L353.50,190.96 L355.50,192.40 L357.50,193.84 L359.50,195.28 L361.50,196.73 L363.50,198.19 L365.50,199.64 L367.50,201.11 L369.50,202.58 L371.50,204.06 L373.50,205.55 L375.50,207.05 L377.50,208.57 L379.50,210.09 L381.50,211.64 L383.50,213.19 L385.50,214.77 L387.50,216.36 L389.50,217.98 L391.50,219.61 L393.50,221.27 L395.50,222.95 L397.50,224.65 L399.50,226.38 L401.50,228.13 L403.50,229.91 L405.50,231.73 L407.50,233.57 L409.50,235.44 L411.50,237.35 L413.50,239.28 L415.50,241.26 L417.50,243.27 L419.50,245.31 L421.50,247.37 L423.50,249.43 L425.50,251.47 L427.50,253.49 L429.50,255.45 L431.50,257.35 L433.50,259.17 L435.50,260.92 L437.50,262.62 L439.50,264.27 L441.50,265.89 L443.50,267.49 L445.50,269.09 L447.50,270.70 L449.50,272.33 L451.50,273.96 L453.50,275.60 L455.50,277.25 L457.50,278.90 L459.50,280.56 L461.50,282.22 L463.50,283.88 L465.50,285.54 L467.50,287.20 L469.50,288.85 L471.50,290.50 L473.50,292.14 L475.50,293.77 L477.50,295.39 L479.50,297.00 L481.50,298.59 L483.50,300.16 L485.50,301.72 L487.50,303.26 L489.50,304.78 L491.50,306.28 L493.50,307.76 L495.50,309.22 L497.50,310.67 L499.50,312.12 L501.50,313.55 L503.50,314.98 L505.50,316.41 L507.50,317.85 L509.50,319.29 L511.50,320.74 L513.50,322.20 L515.50,323.68 L517.50,325.17 L519.50,326.68 L521.50,328.22 L523.50,329.79 L525.50,331.39 L527.50,333.02 L529.50,334.68 L531.50,336.39 L533.50,338.13 L535.50,339.93 L537.50,341.77 L539.50,343.66 L541.50,345.61 L543.50,347.61 L545.50,349.66 L547.50,351.74 L549.50,353.85 L551.50,355.96 L553.50,358.06 L555.50,360.15 L557.50,362.20 L559.50,364.21 L561.50,366.17 L563.50,368.05 L565.50,369.84 L567.50,371.54 L569.50,373.13 L571.50,374.60 L573.50,375.97 L575.50,377.24 L577.50,378.42 L579.50,379.51 L581.50,380.53 L583.50,381.47 L585.50,382.36 L587.50,383.19 L589.50,383.98 L591.50,384.73 L593.50,385.45 L595.50,386.14 L597.50,386.82 L599.50,387.49" stroke="#ff0000" stroke-width="3.6" stroke-dasharray="3.6 5.87" stroke-dashoffset="1.0"/>
</g>
<rect x="89.50" y="19.50" width="595.00" height="386.90" fill="none" stroke="#000" stroke-width="1.14"/>
<path d="M89.50,406.40 v6.00 M174.50,406.40 v6.00 M259.50,406.40 v6.00 M344.50,406.40 v6.00 M429.50,406.40 v6.00 M514.50,406.40 v6.00 M599.50,406.40 v6.00 M684.50,406.40 v6.00 M89.50,406.40 h-6.00 M89.50,328.50 h-6.00 M89.50,251.50 h-6.00 M89.50,174.50 h-6.00 M89.50,96.50 h-6.00 M89.50,19.50 h-6.00" fill="none" stroke="#000" stroke-width="1.14"/>
<circle cx="457.8" cy="464.2" r="5.35" fill="none" stroke="#000" stroke-width="1.6"/><circle cx="457.8" cy="464.2" r="1.3" fill="#000"/>
<path d="M108.40,236.40 H151.20" stroke="#0000ff" stroke-width="5.6" stroke-linecap="square" fill="none"/>
<path d="M108.40,270.65 H151.20" stroke="#ff0000" stroke-width="5.6" stroke-linecap="square" fill="none"/>
<path d="M108.40,304.90 H151.20" stroke="#008000" stroke-width="5.6" stroke-linecap="square" fill="none"/>
<path d="M108.10,338.95 H151.20" stroke="#0000ff" stroke-width="3.6" stroke-dasharray="3.6 5.87" fill="none"/>
<path d="M108.10,373.20 H151.20" stroke="#ff0000" stroke-width="3.6" stroke-dasharray="3.6 5.87" fill="none"/>
<g opacity="0.999" stroke="#000" stroke-width="0.35" stroke-linejoin="round">
<text transform="translate(75.59,432.55) scale(1.0706,1.0115)" font-size="17.40">8.0</text>
<text transform="translate(160.59,432.55) scale(1.0833,1.0115)" font-size="17.40">8.5</text>
<text transform="translate(245.29,432.55) scale(1.0833,1.0115)" font-size="17.40">9.0</text>
<text transform="translate(330.28,432.55) scale(1.0963,1.0115)" font-size="17.40">9.5</text>
<text transform="translate(409.55,432.55) scale(1.1238,1.0115)" font-size="17.40">10.0</text>
<text transform="translate(494.54,432.55) scale(1.1334,1.0115)" font-size="17.40">10.5</text>
<text transform="translate(579.50,432.55) scale(1.1706,1.0115)" font-size="17.40">11.0</text>
<text transform="translate(664.49,432.55) scale(1.1809,1.0115)" font-size="17.40">11.5</text>
<text transform="translate(49.34,413.63) scale(1.0756,1.0033)" font-size="17.40">0.0</text>
<text transform="translate(49.38,335.55) scale(1.0876,1.0035)" font-size="17.40">0.2</text>
<text transform="translate(49.39,258.55) scale(1.0749,1.0035)" font-size="17.40">0.4</text>
<text transform="translate(49.38,181.55) scale(1.0876,1.0035)" font-size="17.40">0.6</text>
<text transform="translate(49.36,103.70) scale(1.0839,1.0226)" font-size="17.40">0.8</text>
<text transform="translate(49.41,26.55) scale(1.0742,1.0035)" font-size="17.40">1.0</text>
<text transform="translate(295.36,465.70) scale(1.1151,1.0000)" font-size="26.00">log</text>
<text transform="translate(344.04,465.19) scale(1.0211,1.0190)" font-size="26.00" font-style="italic">M</text>
<text transform="translate(367.29,469.68) scale(1.1756,1.0000)" font-size="18.30">star</text>
<text transform="translate(413.00,464.00) scale(0.8777,0.9432)" font-size="26.00" stroke-width="0.80">[</text>
<text transform="translate(423.06,465.19) scale(1.0697,1.0190)" font-size="26.00">M</text>
<text transform="translate(472.83,463.88) scale(0.8737,0.9167)" font-size="26.00" stroke-width="0.80">]</text>
<text transform="translate(32.30,342.61) rotate(-90) scale(1.0659,1.0163)" font-size="26.00">Ω</text>
<text transform="translate(36.80,322.41) rotate(-90) scale(1.0232,0.9981)" font-size="18.30">HX</text>
<text transform="translate(30.94,295.34) rotate(-90) scale(0.8958,0.9424)" font-size="26.00" stroke-width="0.80">(</text>
<text transform="translate(32.32,285.54) rotate(-90) scale(1.0593,1.0177)" font-size="26.00" font-style="italic">M</text>
<text transform="translate(33.51,255.74) rotate(-90) scale(1.2448,1.0409)" font-size="26.00">></text>
<text transform="translate(32.26,229.72) rotate(-90) scale(1.0755,1.0197)" font-size="26.00" font-style="italic">M</text>
<text transform="translate(36.90,204.95) rotate(-90) scale(1.1576,1.0000)" font-size="18.30">star</text>
<text transform="translate(31.48,167.79) rotate(-90) scale(0.8717,0.9135)" font-size="26.00" stroke-width="0.80">)</text>
<text transform="translate(35.29,149.94) rotate(-90) scale(1.2337,1.1165)" font-size="26.00">/</text>
<text transform="translate(32.29,132.45) rotate(-90) scale(1.0576,1.0158)" font-size="26.00">Ω</text>
<text transform="translate(36.80,112.25) rotate(-90) scale(1.0440,0.9985)" font-size="18.30">HX</text>
<text transform="translate(169.37,243.69) scale(0.9430,1.0083)" font-size="21.70">H</text>
<text transform="translate(185.35,246.45) scale(0.9825,0.9450)" font-size="15.20" stroke-width="0.50">2</text>
<text transform="translate(203.56,242.58) scale(0.7261,0.9030)" font-size="21.70" stroke-width="0.75">(</text>
<text transform="translate(211.01,243.70) scale(0.9669,1.0000)" font-size="21.70">TNG</text>
<text transform="translate(256.02,243.70) scale(1.0958,1.0000)" font-size="21.70">100-1</text>
<text transform="translate(319.71,242.77) scale(0.7478,0.9140)" font-size="21.70" stroke-width="0.75">)</text>
<text transform="translate(169.37,277.64) scale(0.9430,1.0083)" font-size="21.70">H</text>
<text transform="translate(185.44,280.81) scale(0.6057,0.9438)" font-size="15.20" stroke-width="0.80">I</text>
<text transform="translate(198.39,276.76) scale(0.6968,0.9271)" font-size="21.70" stroke-width="0.75">(</text>
<text transform="translate(205.75,278.10) scale(0.9642,1.0000)" font-size="21.70">TNG</text>
<text transform="translate(250.54,278.21) scale(1.1012,1.0000)" font-size="21.70">100-1</text>
<text transform="translate(314.20,276.73) scale(0.7386,0.9145)" font-size="21.70" stroke-width="0.75">)</text>
<text transform="translate(169.34,312.12) scale(0.9626,0.9995)" font-size="21.70">H</text>
<text transform="translate(185.16,314.76) scale(0.8947,0.9346)" font-size="15.20" stroke-width="0.80">II</text>
<text transform="translate(202.76,310.57) scale(0.6998,0.9284)" font-size="21.70" stroke-width="0.75">(</text>
<text transform="translate(210.25,312.30) scale(0.9659,1.0000)" font-size="21.70">TNG</text>
<text transform="translate(255.06,312.11) scale(1.0980,1.0000)" font-size="21.70">100-1</text>
<text transform="translate(318.95,310.57) scale(0.7234,0.9279)" font-size="21.70" stroke-width="0.75">)</text>
<text transform="translate(169.37,346.14) scale(0.9430,1.0083)" font-size="21.70">H</text>
<text transform="translate(185.35,349.20) scale(0.9825,0.9450)" font-size="15.20" stroke-width="0.50">2</text>
<text transform="translate(203.50,345.75) scale(0.7287,0.8911)" font-size="21.70" stroke-width="0.75">(</text>
<text transform="translate(209.79,346.55) scale(1.1118,1.0000)" font-size="21.70">Fletcher</text>
<text transform="translate(303.80,346.89) scale(1.1079,1.0000)" font-size="21.70">et</text>
<text transform="translate(332.01,346.85) scale(1.1182,1.0000)" font-size="21.70">al.</text>
<text transform="translate(364.33,346.81) scale(1.1004,1.0000)" font-size="21.70">2020</text>
<text transform="translate(420.79,344.97) scale(0.7415,0.9279)" font-size="21.70" stroke-width="0.75">)</text>
<text transform="translate(169.40,380.36) scale(0.9500,1.0040)" font-size="21.70">H</text>
<text transform="translate(185.63,383.18) scale(0.6135,0.9449)" font-size="15.20" stroke-width="0.80">I</text>
<text transform="translate(198.15,379.50) scale(0.7388,0.9322)" font-size="21.70" stroke-width="0.75">(</text>
<text transform="translate(204.39,380.80) scale(1.1118,1.0000)" font-size="21.70">Fletcher</text>
<text transform="translate(298.39,380.84) scale(1.1008,1.0000)" font-size="21.70">et</text>
<text transform="translate(326.52,380.80) scale(1.1322,1.0000)" font-size="21.70">al.</text>
<text transform="translate(359.08,380.97) scale(1.1019,1.0000)" font-size="21.70">2020</text>
<text transform="translate(415.18,379.77) scale(0.7619,0.9131)" font-size="21.70" stroke-width="0.75">)</text>
</g>
</svg>
</body></html>
